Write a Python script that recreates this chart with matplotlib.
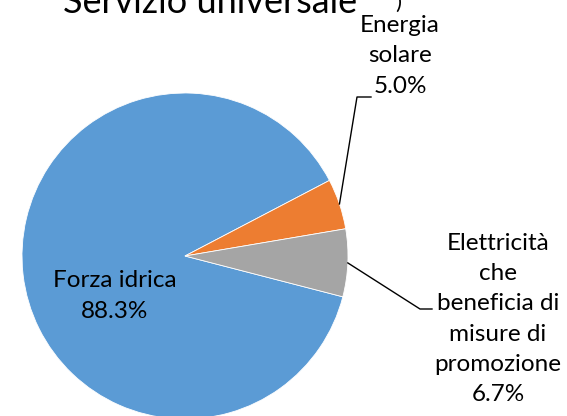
import matplotlib.pyplot as plt
import numpy as np

labels = ["Forza idrica", "Energia\nsolare", "Elettricità\nche\nbeneficia di\nmisure di\npromozione"]
shares = [88.3, 5.0, 6.7]
colors = ["#5B9BD5", "#ED7D31", "#A5A5A5"]

W, H = 567, 416
CX, CY, R = 185, 256, 163  # pie centre / radius in pixels (from top-left)

def px(x, y):
    # pixel position (top-left origin) -> data units
    return (x - CX) / R, (CY - y) / R

fig = plt.figure(figsize=(W / 100, H / 100), dpi=100)
ax = fig.add_axes([0, 0, 1, 1])
plt.rcParams['font.family'] = ['Lato', 'DejaVu Sans']

wedges, _ = ax.pie(shares, colors=colors, startangle=-14.5, counterclock=False,
                   radius=1, center=(0, 0),
                   wedgeprops=dict(edgecolor="white", linewidth=0.6))
ax.set_xlim(-CX / R, (W - CX) / R)
ax.set_ylim(-(H - CY) / R, CY / R)
ax.set_aspect("equal")
ax.axis("off")

fs = 17.5
ls = 1.55
# Forza idrica label inside
x0, y0 = px(115, 296)
ax.text(x0, y0, f"{labels[0]}\n{shares[0]:.1f}%", ha="center", va="center",
        fontsize=fs, linespacing=ls, color="black")

# Energia solare label with leader
tx, ty = px(400, 56)
ax.text(tx, ty, f"{labels[1]}\n{shares[1]:.1f}%", ha="center", va="center",
        fontsize=fs, linespacing=ls)
w = wedges[1]
mid = np.deg2rad((w.theta1 + w.theta2) / 2)
sx, sy = np.cos(mid), np.sin(mid)
kx, ky = px(357, 97)
ex, ey = px(371, 97)
ax.plot([sx, kx, ex], [sy, ky, ey], color="black", lw=1)

# Elettricità label with leader
tx, ty = px(498, 319)
ax.text(tx, ty, f"{labels[2]}\n{shares[2]:.1f}%", ha="center", va="center",
        fontsize=fs, linespacing=ls)
w = wedges[2]
mid = np.deg2rad((w.theta1 + w.theta2) / 2)
sx, sy = np.cos(mid), np.sin(mid)
kx, ky = px(420, 309)
ex, ey = px(432, 309)
ax.plot([sx, kx, ex], [sy, ky, ey], color="black", lw=1)

# title, cut at the top edge as in the source
fig.text(210 / W, 1 - 13 / H, "Servizio universale", ha="center", va="baseline",
         fontsize=26)
fig.text(398 / W, 1 - 9 / H, ")", ha="center", va="baseline", fontsize=16)

fig.savefig("out.png", dpi=100)
